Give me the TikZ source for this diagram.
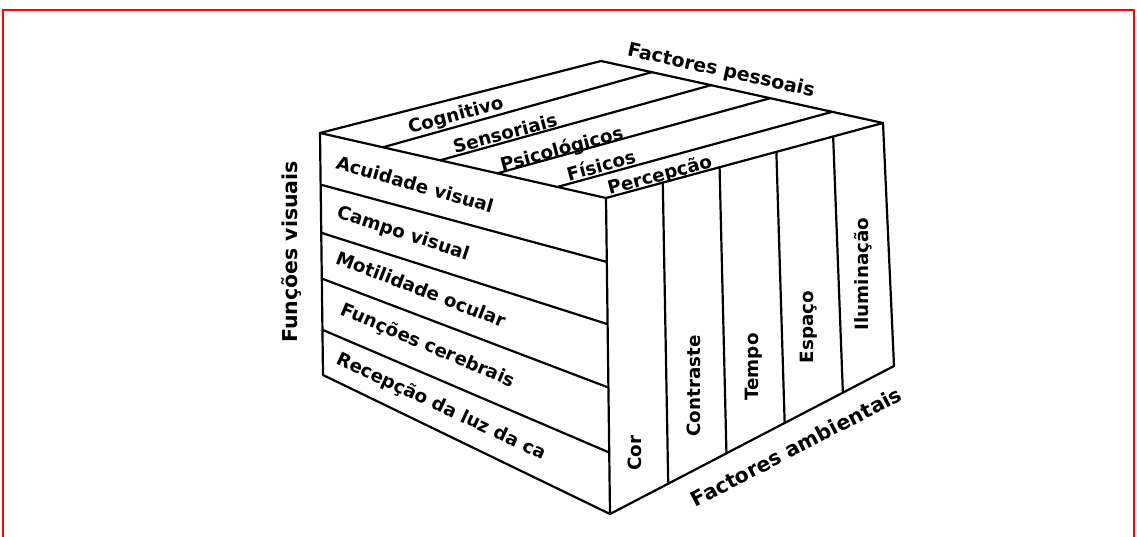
\documentclass[tikz,border=0pt]{standalone}
\usepackage{fontspec}
\setmainfont{DejaVu Sans}
\usetikzlibrary{calc}
\begin{document}
\begin{tikzpicture}[x=1pt,y=-1pt,
  edge/.style={line width=2.2pt, line join=round, line cap=round},
  frame/.style={draw=red, line width=2pt},
  lbl/.style={font=\fontsize{18.3}{18.3}\selectfont\bfseries, inner sep=0pt},
  ttl/.style={font=\fontsize{20.5}{20.5}\selectfont\bfseries, inner sep=0pt}]
\useasboundingbox (0,0) rectangle (1137,537);
\draw[frame] (3,545) -- (3,10) -- (1134,10) -- (1134,545);
% cube vertices
\coordinate (A) at (320,133);
\coordinate (B) at (601,61);
\coordinate (C) at (883,123);
\coordinate (D) at (606,198);
\coordinate (E) at (323,375);
\coordinate (F) at (610,514);
\coordinate (G) at (894,366);
% left face divider points
\coordinate (L1) at (322,185); \coordinate (R1) at (607,262);
\coordinate (L2) at (322,233); \coordinate (R2) at (607,324);
\coordinate (L3) at (323,279); \coordinate (R3) at (607,387);
\coordinate (L4) at (323,330); \coordinate (R4) at (608,452);
% outline
\draw[edge] (A) -- (B) -- (C) -- (D) -- cycle;
\draw[edge] (A) -- (E) -- (F) -- (D);
\draw[edge] (C) -- (G) -- (F);
% left face dividers
\foreach \i in {1,...,4} \draw[edge] (L\i) -- (R\i);
% top face dividers
\draw[edge] ($(A)!0.22!(D)$) -- ($(B)!0.18!(C)$);
\draw[edge] ($(A)!0.42!(D)$) -- ($(B)!0.39!(C)$);
\draw[edge] ($(A)!0.62!(D)$) -- ($(B)!0.60!(C)$);
\draw[edge] ($(A)!0.83!(D)$) -- ($(B)!0.82!(C)$);
% right face dividers
\foreach \f in {0.205,0.41,0.615,0.82} \draw[edge] ($(D)!\f!(C)$) -- ($(F)!\f!(G)$);
% top labels
\node[lbl, rotate=15] (t1) at (456,116) {Cognitivo};
\node[lbl, rotate=15] (t2) at (505,133) {Sensoriais};
\node[lbl, rotate=15] (t3) at (562,150) {Psicológicos};
\node[lbl, rotate=15] (t4) at (601,165) {Físicos};
\node[lbl, rotate=15] (t5) at (660,176) {Percepção};
% left labels
\node[lbl, rotate=-16] (l1) at (415,184) {Acuidade visual};
\node[lbl, rotate=-18] (l2) at (403,234) {Campo visual};
\node[lbl, rotate=-21] (l3) at (421,289) {Motilidade ocular};
\node[lbl, rotate=-23] (l4) at (428,346) {Funções cerebrais};
\node[lbl, rotate=-25] (l5) at (441,407) {Recepção da luz da ca};
% right labels
\node[lbl, rotate=90] (r1) at (635,453) {Cor};
\node[lbl, rotate=90] (r2) at (694,386) {Contraste};
\node[lbl, rotate=90] (r3) at (754,367) {Tempo};
\node[lbl, rotate=90] (r4) at (809,327) {Espaço};
\node[lbl, rotate=90] (r5) at (863,274) {Iluminação};
% titles
\node[ttl, rotate=90] (fv) at (292,252) {Funções visuais};
\node[ttl, rotate=-12.5, font=\fontsize{19}{19}\selectfont\bfseries] (fp) at (721,71) {Factores pessoais};
\node[ttl, rotate=27.5] (fa) at (796,447) {Factores ambientais};
\end{tikzpicture}
\end{document}
